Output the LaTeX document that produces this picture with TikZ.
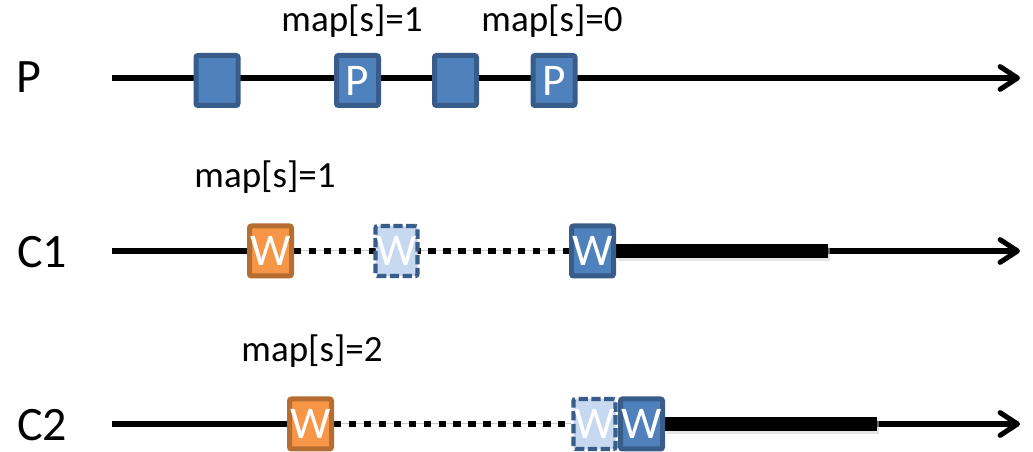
\documentclass[tikz,border=0pt]{standalone}
\usepackage{fontspec}
\setmainfont{Carlito}
\usetikzlibrary{arrows.meta}
\pgfdeclarelayer{bg}
\pgfsetlayers{bg,main}
\definecolor{bfill}{HTML}{4F81BD}
\definecolor{bdraw}{HTML}{385D8A}
\definecolor{ofill}{HTML}{F79646}
\definecolor{odraw}{HTML}{B66D31}
\definecolor{lfill}{HTML}{C6D9F1}
\tikzset{
  box/.style={rectangle, rounded corners=1.5pt, line width=3.75pt, minimum width=31.5pt, minimum height=37.5pt, inner sep=0pt, text=white, font=\fontsize{34}{36}\selectfont},
  bluebox/.style={box, draw=bdraw, fill=bfill},
  orangebox/.style={box, draw=odraw, fill=ofill},
  lightbox/.style={box, draw=bdraw, fill=lfill, line width=3.2pt, dash pattern=on 7pt off 2.6pt},
  maptext/.style={anchor=base, inner sep=0pt, font=\fontsize{27.75}{30}\selectfont},
  rowlabel/.style={anchor=base, inner sep=0pt, font=\fontsize{36}{40}\selectfont},
  axis/.style={line width=3.8pt, -{Straight Barb[length=13pt,width=17pt,line cap=round,line join=round]}},
  plain/.style={line width=3.8pt},
  dots/.style={line width=4pt, dash pattern=on 5.6pt off 5.6pt},
  guide/.style={line width=0.75pt, black!20},
  bar/.style={line width=10.5pt},
  barshadow/.style={line width=10.5pt, black!20, opacity=0.5}
}
\begin{document}
\begin{tikzpicture}[x=0.75pt,y=-0.75pt]
\useasboundingbox (0,0) rectangle (1033,452);
% row labels
\node[rowlabel] (lP) at (29,93) {P};
\node[rowlabel] (lC1) at (42,268) {C1};
\node[rowlabel] (lC2) at (42,441) {C2};
% coordinates
\coordinate (sP) at (112,78);
\coordinate (eP) at (1020,78);
\coordinate (s1) at (112,251);
\coordinate (e1) at (1020,251);
\coordinate (b1) at (828,251);
\coordinate (s2) at (112,424);
\coordinate (e2) at (1020,424);
\coordinate (b2) at (877,424);
% P row
\draw[axis] (sP) -- (eP);
\node[bluebox] (p1) at (217,80.5) {};
\node[bluebox] (p2) at (357.5,80.5) {P};
\node[bluebox] (p3) at (455.5,80.5) {};
\node[bluebox] (p4) at (554,80.5) {P};
\node[maptext] (m1) at (352,32) {map[s]=1};
\node[maptext] (m2) at (552,32) {map[s]=0};
% C1 row
\node[orangebox] (w11) at (270.5,251) {W};
\node[lightbox] (w12) at (396.5,251) {W};
\node[bluebox] (w13) at (592.5,251) {W};
\node[maptext] (m3) at (265,188) {map[s]=1};
% C2 row
\node[orangebox] (w21) at (310.5,424) {W};
\node[lightbox] (w22) at (594.5,424) {W};
\node[bluebox] (w23) at (641.5,424) {W};
\node[maptext] (m4) at (312,362) {map[s]=2};
\begin{pgfonlayer}{bg}
  % C1 connectors
  \draw[plain] (s1) -- (w11.west);
  \draw[guide] (w11.east) -- (w13.west);
  \draw[dots] (w11.east) -- (w13.west);
  \draw[axis] (w13.east) -- (e1);
  \draw[barshadow] ([shift={(2,3)}]w13.east) -- ([shift={(2,3)}]b1);
  \draw[bar] (w13.east) -- (b1);
  % C2 connectors
  \draw[plain] (s2) -- (w21.west);
  \draw[guide] (w21.east) -- (w22.west);
  \draw[dots] (w21.east) -- (w22.west);
  \draw[axis] (w23.east) -- (e2);
  \draw[barshadow] ([shift={(2,3)}]w23.east) -- ([shift={(2,3)}]b2);
  \draw[bar] (w23.east) -- (b2);
\end{pgfonlayer}
\end{tikzpicture}
\end{document}
